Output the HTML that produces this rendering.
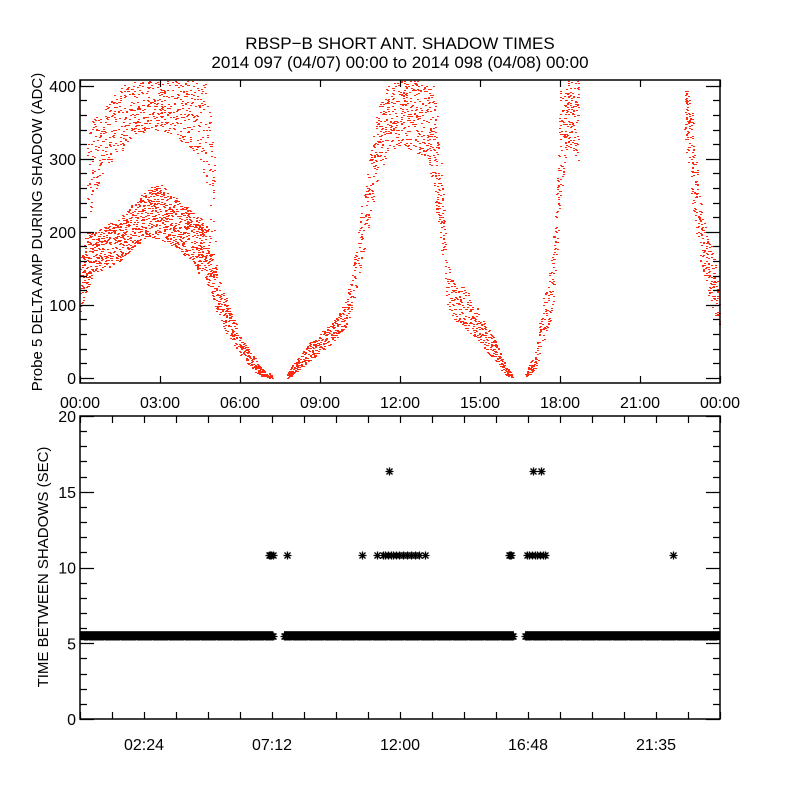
<!DOCTYPE html>
<html><head><meta charset="utf-8"><style>
html,body{margin:0;padding:0;background:#fff;}
svg{display:block;}
text{font-family:"Liberation Sans",sans-serif;fill:#000;}
</style></head><body>
<svg id="chart" width="800" height="800" viewBox="0 0 800 800" xmlns="http://www.w3.org/2000/svg">
<rect x="0" y="0" width="800" height="800" fill="#fff"/>
<text x="400" y="49" font-size="17" text-anchor="middle">RBSP−B SHORT ANT. SHADOW TIMES</text>
<text x="400" y="68" font-size="17" text-anchor="middle">2014 097 (04/07) 00:00 to 2014 098 (04/08) 00:00</text>
<g id="topPanel"></g>
<g id="botPanel"></g>
</svg>
<script>
// ---- top panel data (hours, ADC band low/high) ----
const lowBandTimes = [0,0.25,0.5,1,1.5,2,2.5,3,3.5,4,4.5,4.75,5,5.25,5.5,5.75,6,6.25,6.5,6.75,7,7.2];
const lowBandLo    = [90,120,140,150,160,180,190,190,180,165,140,130,100,80,60,45,30,20,10,3,0,0];
const lowBandHi    = [160,200,200,210,220,240,260,265,250,235,220,210,170,130,105,85,55,45,30,15,8,3];
const upBandTimes  = [0.25,0.5,1,1.5,2,2.5,3,3.5,4,4.5,4.75,5.05];
const upBandLo     = [200,250,290,310,330,340,340,330,320,300,260,160];
const upBandHi     = [330,360,380,400,408,408,408,408,408,408,400,300];
const midBandTimes = [7.75,8,8.5,9,9.5,10,10.25,10.5,10.75,11,11.25,11.5,12,12.5,13,13.25,13.5,13.75,14,14.5,15,15.25,15.5,15.75,16,16.2];
const midBandLo    = [0,5,20,35,50,70,100,150,200,240,280,310,320,310,300,260,180,100,80,65,50,35,25,12,3,0];
const midBandHi    = [5,20,45,60,80,110,160,230,280,340,380,400,408,408,400,400,330,160,140,120,90,70,55,35,15,4];
const riseBandTimes = [16.7,16.9,17.1,17.3,17.5,17.7,17.85,18,18.3,18.7];
const riseBandLo    = [0,5,15,45,60,90,150,250,320,290];
const riseBandHi    = [5,25,40,100,130,170,260,400,408,408];
const lateBandTimes = [22.65,22.9,23.1,23.3,23.5,23.75,24];
const lateBandLo    = [340,250,200,150,120,90,70];
const lateBandHi    = [408,380,300,230,200,170,120];
const bandDensity   = [380,90,200,220,260];
// ---- bottom panel data ----
const shadowSegStart = [0,7.65,16.69];
const shadowSegEnd   = [7.25,16.27,24];
const shadowSegValue = [5.5,5.5,5.5];
const gapTimes  = [7.1,7.14,7.18,7.22,7.76,10.58,11.14,11.36,11.45,11.55,11.65,11.75,11.85,11.95,12.1,12.25,12.4,12.55,12.7,12.94,16.08,16.13,16.18,16.76,16.85,16.95,17.05,17.15,17.25,17.35,17.44,22.24];
const gapValues = [10.8,10.8,10.8,10.8,10.8,10.8,10.8,10.8,10.8,10.8,10.8,10.8,10.8,10.8,10.8,10.8,10.8,10.8,10.8,10.8,10.8,10.8,10.8,10.8,10.8,10.8,10.8,10.8,10.8,10.8,10.8,10.8];
const longGapTimes  = [11.59,16.99,17.29];
const longGapValues = [16.4,16.4,16.4];
const topXTickLabels = ["00:00","03:00","06:00","09:00","12:00","15:00","18:00","21:00","00:00"];
const topYTickLabels = ["0","100","200","300","400"];
const botXTickLabels = ["02:24","07:12","12:00","16:48","21:35"];
const botYTickLabels = ["0","5","10","15","20"];

const NS="http://www.w3.org/2000/svg";
const L=80,R=720;
const T1=80,B1=383,Y1MIN=-7,Y1MAX=408;
const T2=416,B2=719,Y2MIN=0,Y2MAX=20;
function xS(h){return L+h/24*(R-L);}
function y1(v){return B1-(v-Y1MIN)/(Y1MAX-Y1MIN)*(B1-T1);}
function y2(v){return B2-(v-Y2MIN)/(Y2MAX-Y2MIN)*(B2-T2);}
function mk(tag,attrs,parent){const e=document.createElementNS(NS,tag);for(const k in attrs)e.setAttribute(k,attrs[k]);parent.appendChild(e);return e;}
function hash(k){const s=Math.sin(k*12.9898+78.233)*43758.5453;return s-Math.floor(s);}
const topG=document.getElementById('topPanel'),botG=document.getElementById('botPanel');

// top scatter
const bands=[[lowBandTimes,lowBandLo,lowBandHi],[upBandTimes,upBandLo,upBandHi],[midBandTimes,midBandLo,midBandHi],[riseBandTimes,riseBandLo,riseBandHi],[lateBandTimes,lateBandLo,lateBandHi]];
const names=['low-band-points','upper-band-points','midday-band-points','evening-rise-points','late-band-points'];
bands.forEach((b,bi)=>{
  const [ts,lo,hi]=b;let d='';let k=bi*7919+3;
  for(let i=0;i<ts.length-1;i++){
    const dt=ts[i+1]-ts[i];
    const span=((hi[i]-lo[i])+(hi[i+1]-lo[i+1]))/2;
    const n=Math.round(Math.max(bandDensity[bi]*dt*span/100,dt*140));
    for(let j=0;j<n;j++,k+=2){
      const u=hash(k),v=hash(k+1);
      const t=ts[i]+u*dt;
      const l=lo[i]+(lo[i+1]-lo[i])*u,h=hi[i]+(hi[i+1]-hi[i])*u;
      const val=l+v*(h-l);
      const px=Math.round(xS(t)),py=Math.round(y1(val));
      if(py<T1+1||py>B1-1||px>R-1)continue;
      d+='M'+px+' '+py+'h2v1h-2z';
    }
  }
  const p=mk('path',{d:d,fill:'#ff2a10'},topG);
  
  
});

// top axes
function frame(g,t,b,name){
  const r=mk('rect',{x:L,y:t,width:R-L,height:b-t,fill:'none',stroke:'#000','stroke-width':1.5},g);
  
  
}
frame(topG,T1,B1,'top-plot-frame');
let td='';
for(let v=0;v<=400;v+=20){const y=Math.round(y1(v))+0.5;const len=(v%100===0)?14:7;td+=`M${L} ${y}h${len}M${R} ${y}h${-len}`;}
for(let h=0;h<=24;h+=3){const x=Math.round(xS(h))+0.5;td+=`M${x} ${B1}v-7M${x} ${T1}v7`;}
const tt=mk('path',{d:td,stroke:'#000','stroke-width':1.2,fill:'none'},topG);


topYTickLabels.forEach((s,i)=>{const e=mk('text',{x:L-4,y:y1(i*100)+6,'font-size':16,'text-anchor':'end'},topG);e.textContent=s;
  
  });
topXTickLabels.forEach((s,i)=>{const e=mk('text',{x:xS(i*3),y:408,'font-size':16,'text-anchor':'middle'},topG);e.textContent=s;
  
  });
const yt1=mk('text',{x:0,y:0,'font-size':15,'text-anchor':'middle',transform:'translate(42,232) rotate(-90)'},topG);
yt1.textContent='Probe 5 DELTA AMP DURING SHADOW (ADC)';



// bottom panel
frame(botG,T2,B2,'bottom-plot-frame');
let bd='';
for(let v=0;v<=20;v+=1){const y=Math.round(y2(v))+0.5;const len=(v%5===0)?14:7;bd+=`M${L} ${y}h${len}M${R} ${y}h${-len}`;}
for(let i=0;i<=20;i++){const x=Math.round(xS(i*1.2))+0.5;bd+=`M${x} ${B2}v-7M${x} ${T2}v7`;}
const bt=mk('path',{d:bd,stroke:'#000','stroke-width':1.2,fill:'none'},botG);


botYTickLabels.forEach((s,i)=>{const e=mk('text',{x:L-4,y:y2(i*5)+6,'font-size':16,'text-anchor':'end'},botG);e.textContent=s;
  
  });
botXTickLabels.forEach((s,i)=>{const e=mk('text',{x:xS(2.4+i*4.8),y:750,'font-size':16,'text-anchor':'middle'},botG);e.textContent=s;
  
  });
const yt2=mk('text',{x:0,y:0,'font-size':15,'text-anchor':'middle',transform:'translate(48,567) rotate(-90)'},botG);
yt2.textContent='TIME BETWEEN SHADOWS (SEC)';



function star(x,y){x=Math.round(x)+0.5;y=Math.round(y)+0.5;return `M${x-4} ${y}h8M${x} ${y-4}v8M${x-3} ${y-3}l6 6M${x-3} ${y+3}l6 -6`;}
shadowSegStart.forEach((s,i)=>{
  const x0=xS(s),x1=Math.min(xS(shadowSegEnd[i]),R);
  const r=mk('rect',{x:x0,y:y2(shadowSegValue[i])-4.5,width:x1-x0,height:9,fill:'#000'},botG);
  
  
});
let sd='';
shadowSegStart.forEach((s,i)=>{for(let t=s;t<=shadowSegEnd[i]+1e-9;t+=0.04){sd+=star(Math.min(Math.max(xS(t),L+4),R-4),y2(shadowSegValue[i]));}});
const sp=mk('path',{d:sd,stroke:'#000','stroke-width':1.3,fill:'none'},botG);


let gd='';
gapTimes.forEach((t,i)=>{gd+=star(xS(t),y2(gapValues[i]));});
const gp=mk('path',{d:gd,stroke:'#000','stroke-width':1.3,fill:'none'},botG);


let ld='';
longGapTimes.forEach((t,i)=>{ld+=star(xS(t),y2(longGapValues[i]));});
const lp=mk('path',{d:ld,stroke:'#000','stroke-width':1.3,fill:'none'},botG);


</script>
</body></html>
